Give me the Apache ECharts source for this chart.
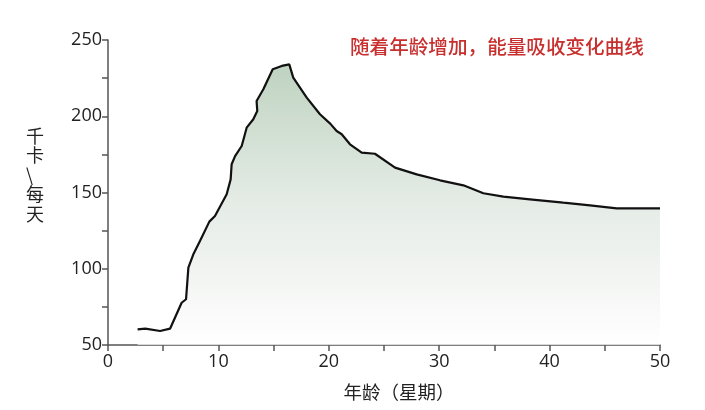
<!DOCTYPE html>
<html>
<head>
<meta charset="utf-8">
<script src="https://cdn.jsdelivr.net/npm/echarts@6/dist/echarts.min.js"></script>
<style>
html,body{margin:0;padding:0;background:#fff;}
#main{width:705px;height:410px;}
</style>
</head>
<body>
<div id="main"></div>
<script>
var ageWeeks = [2.68, 3.38, 4.72, 5.62, 6.67, 7.07, 7.28, 7.73, 8.33, 9.18, 9.69, 10.75, 11.11, 11.2, 11.51, 12.11, 12.56, 13.16, 13.52, 13.46, 14.07, 14.92, 15.74, 16.42, 16.78, 18.0, 19.2, 20.15, 20.71, 21.17, 21.92, 22.98, 24.18, 26.0, 27.96, 30.07, 32.19, 34.0, 35.81, 38.22, 41.24, 43.66, 46.08, 50];
var kcalPerDay = [60.3, 60.7, 59.2, 60.7, 77.7, 80, 100.7, 109.5, 118.2, 130.9, 134.6, 148.8, 158.6, 168.5, 173.9, 180.5, 192.5, 198, 203.4, 210, 217.7, 230.8, 233, 234, 225.3, 212.2, 201.3, 195, 190.3, 188.2, 181.6, 176.1, 175.4, 166.3, 161.9, 158, 154.7, 149.5, 147.3, 145.5, 143.3, 141.6, 139.6, 139.6];
var titleText = '随着年龄增加，能量吸收变化曲线';
var xName = '年龄（星期）';
var yNameChars = ['千', '卡', '\\', '每', '天'];

var data = ageWeeks.map(function (x, i) { return [x, kcalPerDay[i]]; });
var chart = echarts.init(document.getElementById('main'), null, {renderer: 'canvas'});
var fontFam = '"Open Sans", "Noto Sans CJK SC", sans-serif';
var cjk = '"Noto Sans CJK SC", sans-serif';
chart.setOption({
  animation: false,
  backgroundColor: '#fff',
  title: {
    text: titleText,
    left: 345, top: 32,
    textStyle: {color: '#c8302f', fontSize: 19.6, fontWeight: 500, fontFamily: cjk}
  },
  graphic: [{
    type: 'text',
    left: 26, top: 126,
    style: {
      text: yNameChars.join('\n'),
      fill: '#222', fontSize: 18, lineHeight: 19.5, fontFamily: cjk, align: 'center'
    }
  }],
  grid: {left: 108, right: 45, top: 40, bottom: 65},
  xAxis: {
    type: 'value', min: 0, max: 50, interval: 5,
    name: xName, nameLocation: 'middle', nameGap: 38,
    nameTextStyle: {color: '#222', fontSize: 18.5, fontFamily: cjk, padding: [0, 0, 0, 30]},
    axisLine: {show: true, onZero: false, lineStyle: {color: '#555', width: 1.5}},
    axisTick: {show: true, inside: false, length: 6, lineStyle: {color: '#555', width: 1.5}},
    axisLabel: {color: '#222', fontSize: 18, fontFamily: fontFam, margin: 8,
      formatter: function (v) { return v % 10 === 0 ? String(v) : ''; }},
    splitLine: {show: false}
  },
  yAxis: {
    type: 'value', min: 50, max: 250, interval: 25,
    axisLine: {show: true, lineStyle: {color: '#555', width: 1.5}},
    axisTick: {show: true, inside: false, length: 6, lineStyle: {color: '#555', width: 1.5}},
    axisLabel: {color: '#222', fontSize: 18, fontFamily: fontFam, margin: 6,
      formatter: function (v) { return v % 50 === 0 ? String(v) : ''; }},
    splitLine: {show: false}
  },
  series: [{
    type: 'line',
    data: data,
    showSymbol: false,
    smooth: false,
    lineStyle: {color: '#111', width: 2.2},
    areaStyle: {
      origin: 'start',
      color: new echarts.graphic.LinearGradient(0, 0, 0, 1, [
        {offset: 0, color: 'rgb(163,192,166)'},
        {offset: 0.5, color: 'rgb(218,228,220)'},
        {offset: 0.8, color: 'rgb(240,242,240)'},
        {offset: 1, color: 'rgb(255,255,255)'}
      ])
    }
  }]
});
</script>
</body>
</html>
